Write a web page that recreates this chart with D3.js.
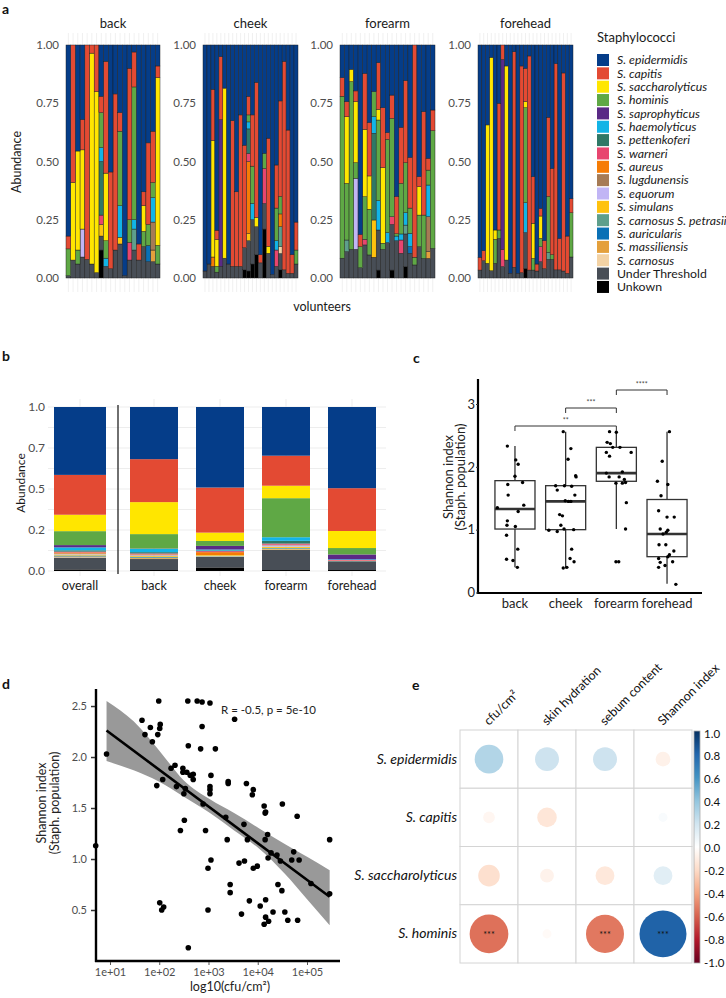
<!DOCTYPE html>
<html><head><meta charset="utf-8">
<script src="https://cdn.jsdelivr.net/npm/d3@7"></script>
<style>body{margin:0;background:#fff;} svg{display:block;font-family:Lato,"Open Sans",sans-serif;}</style>
</head><body><svg id="c" width="726" height="998"></svg>
<script>
// ---------------- DATA ----------------
const species = ["S. epidermidis","S. capitis","S. saccharolyticus","S. hominis","S. saprophyticus","S. haemolyticus","S. pettenkoferi","S. warneri","S. aureus","S. lugdunensis","S. equorum","S. simulans","S. carnosus S. petrasii","S. auricularis","S. massiliensis","S. carnosus","Under Threshold","Unkown"];
const speciesKeys = ["epi","cap","sac","hom","sap","hae","pet","war","aur","lug","equ","sim","petr","auri","mass","carn","ut","unk"];
const speciesColors = ["#053d89","#e34a33","#ffe600","#5fa845","#5a2a86","#12b4e6","#2f7866","#e8456f","#f67c05","#a67b55","#c1b5f5","#ffc20e","#5e9f8c","#0a71b6","#e4a03c","#f3d2a4","#484e56","#000000"];

const sitesA = ["back","cheek","forearm","forehead"];
const backBars = [
 {ut:.01,hom:.115,cap:.055,epi:.82},{ut:.077,sac:.333,cap:.59},{ut:.06,hom:.06,sac:.425,epi:.455},
 {ut:.09,equ:.12,sac:.34,cap:.13,epi:.32},{ut:.08,cap:.92},{ut:.06,sac:.905,cap:.035},{ut:.023,sac:.777,cap:.20},
 {unk:.12,ut:.06,sim:.05,war:.04,pet:.23,hae:.06,hom:.15,cap:.07,epi:.22},
 {ut:.05,hae:.035,hom:.075,sac:.29,cap:.48,epi:.07},{ut:.04,cap:.415,epi:.545},{ut:.12,cap:.67,epi:.21},
 {ut:.146,sim:.029,hae:.135,hom:.32,cap:.08,epi:.29},{ut:.01,epi:.99},{ut:.077,war:.076,hom:.097,cap:.65,epi:.10},
 {ut:.12,petr:.09,hae:.04,hom:.57,cap:.15,epi:.03},{ut:.077,cap:.069,epi:.854},{ut:.135,hom:.065,sac:.11,cap:.06,epi:.63},
 {ut:.07,auri:.07,hom:.09,cap:.35,epi:.42},{ut:.07,mass:.05,lug:.12,hae:.105,hom:.065,cap:.22,epi:.37},
 {ut:.06,hom:.08,sac:.72,cap:.05,epi:.09}
];
const cheekBars = [
 {ut:.03,epi:.97},{ut:.06,epi:.94},{ut:.05,aur:.04,sac:.50,cap:.22,epi:.19},{ut:.025,hom:.025,sac:.115,cap:.04,epi:.795},
 {ut:.05,sap:.63,cap:.27,epi:.05},{ut:.085,sac:.73,epi:.185},{ut:.06,epi:.94},{ut:.05,cap:.625,epi:.325},
 {ut:.05,cap:.32,epi:.63},{ut:.05,cap:.65,epi:.30},{unk:.035,ut:.095,cap:.44,epi:.43},
 {unk:.03,ut:.13,sim:.03,aur:.31,war:.035,pet:.105,hae:.03,hom:.03,cap:.08,epi:.22},
 {unk:.06,ut:.19,hae:.07,hom:.16,cap:.22,epi:.30},{unk:.10,ut:.12,sac:.04,cap:.58,epi:.16},
 {ut:.065,cap:.035,epi:.90},{unk:.21,ut:.11,war:.15,hom:.065,epi:.465},{ut:.106,sac:.03,cap:.464,epi:.40},
 {ut:.015,epi:.985},{ut:.05,war:.07,hae:.04,hom:.14,cap:.185,epi:.515},
 {unk:.035,ut:.07,carn:.03,aur:.055,petr:.085,hom:.075,cap:.41,epi:.24},
 {ut:.035,cap:.895,epi:.07},{ut:.02,cap:.615,epi:.365},{ut:.02,cap:.08,epi:.90},{ut:.06,hom:.06,cap:.12,epi:.76}
];
const forearmBars = [
 {ut:.085,hom:.695,cap:.08,epi:.14},{ut:.113,petr:.05,hom:.243,sac:.286,cap:.065,epi:.243},
 {ut:.123,hom:.72,sac:.053,epi:.104},{ut:.123,equ:.305,hom:.067,sac:.262,cap:.046,epi:.197},
 {ut:.044,hom:.09,cap:.053,epi:.813},{ut:.142,war:.024,hom:.183,sac:.289,cap:.24,epi:.122},
 {ut:.099,hom:.196,sac:.143,cap:.229,epi:.333},{ut:.089,sim:.16,pet:.372,hae:.071,hom:.108,epi:.20},
 {unk:.034,ut:.172,hae:.126,hom:.346,sac:.046,cap:.20,epi:.076},{ut:.123,hom:.026,sac:.325,cap:.257,epi:.269},
 {ut:.152,hae:.043,hom:.40,cap:.029,epi:.376},{unk:.034,ut:.196,war:.033,hom:.422,cap:.10,epi:.215},
 {ut:.16,hae:.02,hom:.01,cap:.16,epi:.65},{ut:.106,war:.057,hae:.026,hom:.217,cap:.241,epi:.353},
 {unk:.049,ut:.14,petr:.038,hae:.053,hom:.215,cap:.352,epi:.153},{ut:.106,auri:.029,hae:.057,hom:.108,cap:.218,epi:.482},
 {ut:.056,hom:.033,cap:.911},{ut:.134,hom:.136,sac:.122,cap:.043,epi:.565},{ut:.084,hom:.186,cap:.444,epi:.286},
 {ut:.084,mass:.029,lug:.15,hae:.136,hom:.064,cap:.051,epi:.486},{ut:.127,hom:.505,cap:.089,epi:.279}
];
const foreheadBars = [
 {ut:.034,cap:.055,epi:.911},{ut:.074,cap:.043,epi:.883},{ut:.063,sac:.594,epi:.343},{ut:.031,sac:.916,epi:.053},
 {ut:.063,hom:.103,sac:.04,epi:.794},{ut:.17,hom:.036,cap:.544,epi:.25},{ut:.049,war:.074,sap:.815,cap:.062},
 {ut:.077,sac:.833,epi:.09},{ut:.02,epi:.98},{ut:.046,cap:.925,epi:.029},{ut:.02,epi:.98},{ut:.023,cap:.887,epi:.09},
 {unk:.041,ut:.154,hae:.128,hom:.408,sac:.026,cap:.143,epi:.10},{ut:.034,cap:.919,epi:.047},
 {ut:.034,hom:.05,sac:.151,cap:.20,epi:.565},{ut:.03,cap:.03,epi:.94},
 {ut:.07,war:.064,hom:.036,sac:.096,cap:.033,epi:.701},{ut:.04,cap:.12,epi:.84},
 {ut:.08,petr:.03,hom:.24,cap:.34,epi:.31},{ut:.08,hom:.02,cap:.37,epi:.53},{ut:.035,cap:.885,epi:.08},
 {ut:.035,cap:.135,epi:.83},{ut:.03,cap:.85,epi:.12},{ut:.02,cap:.16,epi:.82},{ut:.09,hom:.19,cap:.06,epi:.66}
];
const aTicks = [0,0.25,0.5,0.75,1];

// panel b
const bCats = ["overall","back","cheek","forearm","forehead"];
const bComp = [
 {site:"overall",unk:.01,ut:.072,carn:.003,mass:.004,auri:.003,petr:.003,sim:.005,equ:.003,lug:.004,aur:.006,war:.005,pet:.008,hae:.018,sap:.014,hom:.085,sac:.10,cap:.243,epi:.414},
 {site:"back",unk:.006,ut:.067,carn:.001,mass:.005,auri:.004,petr:.004,sim:.005,equ:.004,lug:.004,aur:.002,war:.005,pet:.008,hae:.02,sap:.002,hom:.088,sac:.195,cap:.262,epi:.318},
 {site:"cheek",unk:.022,ut:.065,carn:.003,petr:.003,sim:.004,aur:.018,war:.006,pet:.004,hae:.006,sap:.022,hom:.03,sac:.051,cap:.275,epi:.491},
 {site:"forearm",unk:.006,ut:.122,carn:.002,mass:.004,auri:.003,petr:.004,sim:.007,equ:.008,lug:.004,war:.007,pet:.017,hae:.022,hom:.238,sac:.076,cap:.183,epi:.297},
 {site:"forehead",unk:.006,ut:.053,petr:.002,sim:.002,war:.004,hae:.004,sap:.03,hom:.039,sac:.104,cap:.261,epi:.495}
];
const bTicks = [0,0.25,0.5,0.75,1];
const bTickLabels = ["0.0","0.2","0.5","0.7","1.0"];

// panel c
const cSites = ["back","cheek","forearm","forehead"];
const cQ1 = [1.01,1.00,1.77,0.57];
const cMed = [1.33,1.45,1.90,0.93];
const cQ3 = [1.78,1.70,2.31,1.48];
const cLo = [0.40,0.38,1.01,0.14];
const cHi = [2.33,2.56,2.56,2.56];
const cPointsBack = [[-.19,2.33],[.02,2.11],[.08,2.04],[0,1.85],[-.18,1.72],[.19,1.75],[-.17,1.55],[.22,1.39],[-.44,1.35],[.08,1.29],[-.19,1.14],[-.2,1.07],[.01,1.05],[-.21,.91],[.07,.69],[-.21,.53],[-.05,.51],[.06,.40]];
const cPointsCheek = [[-.06,2.56],[.13,2.29],[.06,2.12],[.25,1.86],[.26,1.84],[-.25,1.70],[-.03,1.70],[.15,1.69],[-.21,1.63],[.23,1.55],[-.01,1.46],[.07,1.45],[.13,1.45],[-.15,1.24],[-.08,1.22],[-.12,1.07],[-.04,1.01],[-.42,.99],[-.21,.97],[.2,1.0],[.15,.69],[.11,.54],[.21,.49],[-.06,.39],[.03,.40]];
const cPointsForearm = [[-.17,2.56],[0,2.55],[-.23,2.39],[-.15,2.37],[-.09,2.31],[.09,2.31],[.37,2.23],[-.25,2.23],[-.17,2.17],[-.25,1.90],[.15,1.92],[-.18,1.84],[.07,1.84],[.2,1.80],[.15,1.74],[-.01,1.74],[.23,1.75],[.25,1.43],[.23,1.01],[-.01,.49],[.06,.49]];
const cPointsForehead = [[.06,2.56],[-.12,2.09],[-.24,1.77],[.02,1.72],[-.15,1.54],[-.21,1.30],[0,1.20],[.18,1.20],[-.17,1.01],[.02,.99],[-.02,.96],[-.1,.93],[-.2,.76],[-.03,.76],[.17,.66],[.06,.60],[-.21,.54],[-.17,.48],[.14,.49],[-.21,.40],[-.05,.43],[.22,.13],[.02,.57]];
const cSig = [["back","forearm","**"],["cheek","forearm","***"],["forearm","forehead","****"]];
const cTicks = [0,1,2,3];

// panel d
const dLogCfu = [0.71,0.93,1.65,1.71,1.82,1.86,1.97,1.99,2.01,2.02,1.95,2.07,2.01,2.05,2.09,2.24,2.32,2.35,2.43,2.48,2.48,2.50,2.51,2.53,2.56,2.59,2.59,2.63,2.69,2.69,2.58,2.77,2.87,2.87,2.84,2.89,2.94,2.99,2.99,3.03,3.03,3.03,3.03,3.05,3.05,3.14,3.35,3.38,3.40,3.40,3.44,3.44,3.53,3.62,3.67,3.72,3.73,3.77,3.79,3.83,3.89,3.91,3.91,3.99,4.05,4.13,4.15,4.16,4.16,4.16,4.13,4.15,4.20,4.21,4.22,4.27,4.31,4.39,4.41,4.46,4.49,4.50,4.55,4.61,4.69,4.73,4.80,4.81,4.84,5.08,5.46,5.46];
const dShannon = [1.13,2.03,2.36,2.22,2.29,2.15,2.22,2.55,2.28,2.32,1.72,1.78,0.57,0.50,0.53,1.89,1.92,1.71,1.28,1.89,1.85,1.64,1.38,1.69,1.85,2.11,0.13,1.82,1.83,1.78,2.55,2.55,2.54,2.30,2.08,1.54,1.28,0.91,0.50,2.53,1.71,1.68,1.64,1.82,0.99,2.08,1.41,1.19,1.76,1.74,0.75,0.67,2.37,0.96,0.46,1.34,0.98,1.74,1.19,0.59,1.63,1.68,0.91,0.93,0.54,1.52,1.45,1.46,0.60,0.43,0.36,1.19,1.24,1.01,0.39,1.06,0.48,1.04,0.75,0.98,0.69,1.54,0.48,0.40,0.99,1.07,1.42,0.40,0.99,0.76,1.19,0.66];
const dLineX = [0.93,5.46];
const dLineY = [2.26,0.63];
const dBandX = [0.93,1.48,1.99,2.50,3.03,3.52,4.03,4.54,5.01,5.46];
const dBandHi = [2.55,2.35,2.07,1.77,1.585,1.45,1.30,1.15,1.02,0.89];
const dBandLo = [1.96,1.87,1.76,1.61,1.45,1.28,1.10,0.86,0.60,0.35];
const dXTicks = [1,2,3,4,5];
const dXTickLabels = ["1e+01","1e+02","1e+03","1e+04","1e+05"];
const dYTicks = [0.5,1.0,1.5,2.0,2.5];

// panel e
const eRows = ["S. epidermidis","S. capitis","S. saccharolyticus","S. hominis"];
const eCols = ["cfu/cm²","skin hydration","sebum content","Shannon index"];
const eVals = [[0.30,0.21,0.21,-0.08],[-0.05,-0.14,0.0,0.03],[-0.17,-0.07,-0.13,0.13],[-0.55,-0.03,-0.53,0.81]];
const eSig = [["","","",""],["","","",""],["","","",""],["***","","***","***"]];
const eScaleStops = [-1,-0.8,-0.6,-0.4,-0.2,0,0.2,0.4,0.6,0.8,1];
const eScaleColors = ["#67001F","#B2182B","#D6604D","#F4A582","#FDDBC7","#FFFFFF","#D1E5F0","#92C5DE","#4393C3","#2166AC","#053061"];
const eBarLabels = ["1.0","0.8","0.6","0.4","0.2","0.0","-0.2","-0.4","-0.6","-0.8","-1.0"];

// ---------------- DRAW ----------------
const svg = d3.select("#c");
const colorOf = k => speciesColors[speciesKeys.indexOf(k)];
const stackKeys = speciesKeys.slice().reverse();
const stacker = d3.stack().keys(stackKeys).value((d,k)=>d[k]||0);
function letter(t,x,y){svg.append("text").attr("x",x).attr("y",y).attr("font-size",14).attr("font-weight","bold").attr("fill","#111").text(t);}

// ===== Panel a =====
letter("a",2,14);
const facetRange = [[66,160],[203,298],[340,435],[478,573]];
const facetData = [backBars,cheekBars,forearmBars,foreheadBars];
const yA = d3.scaleLinear().domain([0,1]).range([278,45]);
sitesA.forEach((site,i)=>{
  const bars = facetData[i];
  const xb = d3.scaleBand().domain(d3.range(bars.length)).range(facetRange[i]).padding(0);
  const g = svg.append("g");
  g.selectAll("line.vg").data(bars).join("line")
    .attr("x1",(d,j)=>xb(j)+xb.bandwidth()/2).attr("x2",(d,j)=>xb(j)+xb.bandwidth()/2)
    .attr("y1",33).attr("y2",292).attr("stroke","#ececec").attr("stroke-width",0.8);
  const layers = stacker(bars);
  g.selectAll("g.layer").data(layers).join("g").attr("fill",l=>colorOf(l.key))
    .selectAll("rect").data(l=>l.map((s,j)=>({s,j})).filter(o=>o.s[1]>o.s[0])).join("rect")
    .attr("x",o=>xb(o.j)).attr("width",xb.bandwidth())
    .attr("y",o=>yA(o.s[1])).attr("height",o=>yA(o.s[0])-yA(o.s[1]))
    .attr("stroke","#1e1e1e").attr("stroke-width",0.45);
  const ax = g.append("g").attr("transform",`translate(${facetRange[i][0]},0)`)
    .call(d3.axisLeft(yA).tickValues(aTicks).tickFormat(d3.format(".2f")).tickSize(0).tickPadding(7));
  ax.select(".domain").remove();
  ax.selectAll("text").attr("font-size",11.5).attr("fill","#4d4d4d").attr("font-family","Lato");
  g.append("text").attr("x",(facetRange[i][0]+facetRange[i][1])/2).attr("y",28).attr("text-anchor","middle")
    .attr("font-size",13).attr("fill","#1a1a1a").text(site);
});
svg.append("text").attr("transform","translate(21,162) rotate(-90)").attr("text-anchor","middle").attr("font-size",12.5).attr("fill","#1a1a1a").text("Abundance");
svg.append("text").attr("x",322).attr("y",311).attr("text-anchor","middle").attr("font-size",12.5).attr("fill","#1a1a1a").text("volunteers");
// legend
svg.append("text").attr("x",597).attr("y",42).attr("font-size",13).attr("fill","#1a1a1a").text("Staphylococci");
const leg = svg.append("g").selectAll("g").data(species).join("g").attr("transform",(d,i)=>`translate(597,${60+i*13.35})`);
leg.append("rect").attr("x",0).attr("y",-6).attr("width",12).attr("height",12).attr("fill",(d,i)=>speciesColors[i]);
leg.append("text").attr("x",20).attr("y",4.3).attr("fill","#1a1a1a")
  .attr("font-size",(d,i)=>i<16?12.3:12.3)
  .attr("font-style",(d,i)=>i<16?"italic":"normal").text(d=>d);

// ===== Panel b =====
letter("b",2,361);
const yB = d3.scaleLinear().domain([0,1]).range([571,407]);
const xOverall = d3.scaleBand().domain(["overall"]).range([54,106]).padding(0);
const xSites = d3.scaleBand().domain(bCats.slice(1)).range([121,385]).paddingInner(0.273).paddingOuter(0.1365);
const xBpos = c => c==="overall" ? xOverall(c) : xSites(c);
const bw = c => c==="overall" ? xOverall.bandwidth() : xSites.bandwidth();
const gB = svg.append("g");
d3.range(0,1.0001,0.125).forEach(v=>{
  gB.append("line").attr("x1",48).attr("x2",386).attr("y1",yB(v)).attr("y2",yB(v)).attr("stroke","#ebebeb").attr("stroke-width",0.9);
});
bCats.forEach(c=>{
  gB.append("line").attr("x1",xBpos(c)+bw(c)/2).attr("x2",xBpos(c)+bw(c)/2).attr("y1",399).attr("y2",576).attr("stroke","#ebebeb").attr("stroke-width",0.9);
});
const layersB = stacker(bComp);
gB.selectAll("g.layer").data(layersB).join("g").attr("fill",l=>colorOf(l.key))
  .selectAll("rect").data(l=>l.filter(s=>s[1]>s[0])).join("rect")
  .attr("x",s=>xBpos(s.data.site)).attr("width",s=>bw(s.data.site))
  .attr("y",s=>yB(s[1])).attr("height",s=>yB(s[0])-yB(s[1]));
gB.append("line").attr("x1",118).attr("x2",118).attr("y1",405).attr("y2",574).attr("stroke","#222").attr("stroke-width",1.3);
const axB = gB.append("g").attr("transform","translate(50,0)")
  .call(d3.axisLeft(yB).tickValues(bTicks).tickFormat((d,i)=>bTickLabels[i]).tickSize(0).tickPadding(5));
axB.select(".domain").remove();
axB.selectAll("text").attr("font-size",12).attr("fill","#4d4d4d").attr("font-family","Lato");
bCats.forEach(c=>{
  gB.append("text").attr("x",xBpos(c)+bw(c)/2).attr("y",590).attr("text-anchor","middle").attr("font-size",12.5).attr("fill","#1a1a1a").text(c);
});
svg.append("text").attr("transform","translate(25,483) rotate(-90)").attr("text-anchor","middle").attr("font-size",12).attr("fill","#1a1a1a").text("Abundance");

// ===== Panel c =====
letter("c",413,363);
const yC = d3.scaleLinear().domain([0,3]).range([592.5,404]);
const xC = d3.scaleBand().domain(cSites).range([484.3,697.7]).padding(0.21);
const gC = svg.append("g");
const cPoints = [cPointsBack,cPointsCheek,cPointsForearm,cPointsForehead];
cSites.forEach((s,i)=>{
  const cx = xC(s)+xC.bandwidth()/2, w = xC.bandwidth();
  gC.append("line").attr("x1",cx).attr("x2",cx).attr("y1",yC(cHi[i])).attr("y2",yC(cQ3[i])).attr("stroke","#333").attr("stroke-width",1.3);
  gC.append("line").attr("x1",cx).attr("x2",cx).attr("y1",yC(cQ1[i])).attr("y2",yC(cLo[i])).attr("stroke","#333").attr("stroke-width",1.3);
  gC.append("rect").attr("x",xC(s)).attr("width",w).attr("y",yC(cQ3[i])).attr("height",yC(cQ1[i])-yC(cQ3[i]))
    .attr("fill","none").attr("stroke","#333").attr("stroke-width",1.3);
  gC.append("line").attr("x1",xC(s)).attr("x2",xC(s)+w).attr("y1",yC(cMed[i])).attr("y2",yC(cMed[i])).attr("stroke","#333").attr("stroke-width",2.6);
  gC.selectAll(null).data(cPoints[i]).join("circle").attr("cx",d=>cx+d[0]*w).attr("cy",d=>yC(d[1])).attr("r",1.7).attr("fill","#000");
});
const bracketY = [426,408,390];
cSig.forEach((sg,i)=>{
  const x1 = xC(sg[0])+xC.bandwidth()/2, x2 = xC(sg[1])+xC.bandwidth()/2, y = bracketY[i];
  gC.append("path").attr("d",`M${x1},${y+5}V${y}H${x2}V${y+5}`).attr("fill","none").attr("stroke","#333").attr("stroke-width",1);
  gC.append("text").attr("x",(x1+x2)/2).attr("y",y-3).attr("text-anchor","middle").attr("font-size",7).attr("fill","#444").text(sg[2]);
});
gC.append("line").attr("x1",478).attr("x2",478).attr("y1",379).attr("y2",594).attr("stroke","#000").attr("stroke-width",2.2);
gC.append("line").attr("x1",477).attr("x2",702).attr("y1",593).attr("y2",593).attr("stroke","#000").attr("stroke-width",2.2);
const axC = gC.append("g").attr("transform","translate(478,0)").call(d3.axisLeft(yC).tickValues(cTicks).tickFormat(d3.format("d")).tickSize(2).tickPadding(1));
axC.select(".domain").remove();
axC.selectAll("line").attr("stroke","#333");
axC.selectAll("text").attr("font-size",13).attr("fill","#222").attr("font-family","Lato");
cSites.forEach(s=>{
  gC.append("text").attr("x",xC(s)+xC.bandwidth()/2).attr("y",608).attr("text-anchor","middle").attr("font-size",13).attr("fill","#222").text(s);
});
svg.append("text").attr("transform","translate(453,477) rotate(-90)").attr("text-anchor","middle").attr("font-size",13).attr("fill","#222").text("Shannon index");
svg.append("text").attr("transform","translate(465,477) rotate(-90)").attr("text-anchor","middle").attr("font-size",13).attr("fill","#222").text("(Staph. population)");

// ===== Panel d =====
letter("d",2,689);
const xD = d3.scaleLinear().domain([0.716,5.67]).range([96,340]);
const yD = d3.scaleLinear().domain([0,2.667]).range([961,689]);
const gD = svg.append("g");
const bandData = dBandX.map((x,i)=>({x,lo:dBandLo[i],hi:dBandHi[i]}));
gD.append("path").datum(bandData).attr("d",d3.area().x(d=>xD(d.x)).y0(d=>yD(d.lo)).y1(d=>yD(d.hi)).curve(d3.curveMonotoneX))
  .attr("fill","#999999");
gD.selectAll("circle").data(dLogCfu).join("circle").attr("cx",d=>xD(d)).attr("cy",(d,i)=>yD(dShannon[i])).attr("r",2.8).attr("fill","#000");
gD.append("path").datum(dLineX.map((x,i)=>[x,dLineY[i]])).attr("d",d3.line().x(d=>xD(d[0])).y(d=>yD(d[1])))
  .attr("stroke","#000").attr("stroke-width",2.6).attr("fill","none");
gD.append("line").attr("x1",96).attr("x2",96).attr("y1",689).attr("y2",962).attr("stroke","#000").attr("stroke-width",2.4);
gD.append("line").attr("x1",95).attr("x2",340).attr("y1",961).attr("y2",961).attr("stroke","#000").attr("stroke-width",2.4);
const axDy = gD.append("g").attr("transform","translate(95,0)").call(d3.axisLeft(yD).tickValues(dYTicks).tickFormat(d3.format(".1f")).tickSize(4).tickPadding(4));
axDy.select(".domain").remove();
axDy.selectAll("line").attr("stroke","#333").attr("stroke-width",1.5);
axDy.selectAll("text").attr("font-size",11).attr("fill","#4d4d4d").attr("font-family","Lato");
const axDx = gD.append("g").attr("transform","translate(0,962)").call(d3.axisBottom(xD).tickValues(dXTicks).tickFormat((d,i)=>dXTickLabels[i]).tickSize(3).tickPadding(3));
axDx.select(".domain").remove();
axDx.selectAll("line").attr("stroke","#555");
axDx.selectAll("text").attr("font-size",11).attr("fill","#4d4d4d").attr("font-family","Lato");
gD.append("text").attr("x",221).attr("y",714).attr("font-size",11.5).attr("fill","#222").text("R = -0.5,  p = 5e-10");
gD.append("text").attr("x",230).attr("y",991).attr("text-anchor","middle").attr("font-size",12.5).attr("fill","#222").text("log10(cfu/cm²)");
svg.append("text").attr("transform","translate(46,803) rotate(-90)").attr("text-anchor","middle").attr("font-size",12.5).attr("fill","#222").text("Shannon index");
svg.append("text").attr("transform","translate(59,803) rotate(-90)").attr("text-anchor","middle").attr("font-size",12.5).attr("fill","#222").text("(Staph. population)");

// ===== Panel e =====
letter("e",412,690);
const xE = d3.scaleBand().domain(eCols).range([460,692]);
const yE = d3.scaleBand().domain(eRows).range([730,963]);
const eColor = d3.scaleLinear().domain(eScaleStops).range(eScaleColors);
const gE = svg.append("g");
eCols.forEach((c,j)=>{ eRows.forEach((r,i)=>{
  gE.append("rect").attr("x",xE(c)).attr("y",yE(r)).attr("width",xE.bandwidth()).attr("height",yE.bandwidth())
    .attr("fill","#fff").attr("stroke","#d4d4d4").attr("stroke-width",1);
});});
eRows.forEach((r,i)=>{ eCols.forEach((c,j)=>{
  const v = eVals[i][j], cx = xE(c)+xE.bandwidth()/2, cy = yE(r)+yE.bandwidth()/2;
  gE.append("circle").attr("cx",cx).attr("cy",cy).attr("r",0.45*xE.bandwidth()*Math.sqrt(Math.abs(v))).attr("fill",eColor(v));
  if(eSig[i][j]) gE.append("text").attr("x",cx).attr("y",cy+4).attr("text-anchor","middle").attr("font-size",9).attr("fill","#111").text(eSig[i][j]);
});});
eRows.forEach(r=>{
  gE.append("text").attr("x",457).attr("y",yE(r)+yE.bandwidth()/2+4.5).attr("text-anchor","end").attr("font-size",14).attr("font-style","italic").attr("fill","#111").text(r);
});
eCols.forEach(c=>{
  gE.append("text").attr("transform",`translate(${xE(c)+xE.bandwidth()/2},726) rotate(-45)`).attr("font-size",12.5).attr("fill","#111").text(c);
});
const grad = svg.append("defs").append("linearGradient").attr("id","rdbu").attr("x1",0).attr("x2",0).attr("y1",1).attr("y2",0);
eScaleStops.forEach((s,i)=>grad.append("stop").attr("offset",(s+1)/2).attr("stop-color",eScaleColors[i]));
const yBar = d3.scaleLinear().domain([-1,1]).range([962,733]);
gE.append("rect").attr("x",694).attr("y",731).attr("width",6).attr("height",232).attr("fill","url(#rdbu)").attr("stroke","#aaa").attr("stroke-width",0.8);
gE.selectAll("text.cb").data(eBarLabels).join("text").attr("x",704).attr("y",(d,i)=>yBar(eScaleStops[10-i])+4.5)
  .attr("font-size",11.5).attr("fill","#111").text(d=>d);
</script></body></html>
